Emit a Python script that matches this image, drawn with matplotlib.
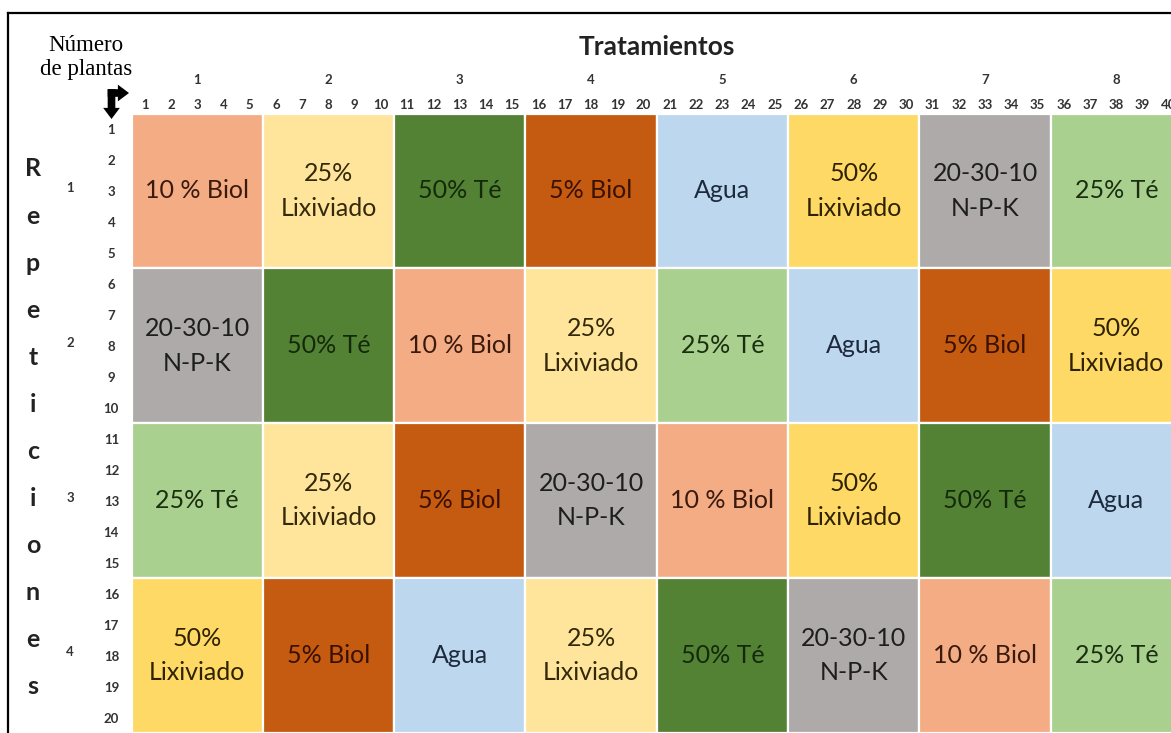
import numpy as np
import matplotlib
matplotlib.use('Agg')
import matplotlib.pyplot as plt
from matplotlib.patches import Rectangle
from matplotlib.lines import Line2D

# datos del diseño
tratamientos = [1, 2, 3, 4, 5, 6, 7, 8]
repeticiones = [1, 2, 3, 4]
plantas_col = list(range(1, 41))
plantas_fila = list(range(1, 21))

rep1 = ['10 % Biol', '25%\nLixiviado', '50% Té', '5% Biol', 'Agua', '50%\nLixiviado', '20-30-10\nN-P-K', '25% Té']
rep2 = ['20-30-10\nN-P-K', '50% Té', '10 % Biol', '25%\nLixiviado', '25% Té', 'Agua', '5% Biol', '50%\nLixiviado']
rep3 = ['25% Té', '25%\nLixiviado', '5% Biol', '20-30-10\nN-P-K', '10 % Biol', '50%\nLixiviado', '50% Té', 'Agua']
rep4 = ['50%\nLixiviado', '5% Biol', 'Agua', '25%\nLixiviado', '50% Té', '20-30-10\nN-P-K', '10 % Biol', '25% Té']
diseno = [rep1, rep2, rep3, rep4]

letras = list('Repeticiones')

# colores
fondo = {
    '10 % Biol': '#F3AC84',
    '25%\nLixiviado': '#FFE59C',
    '50% Té': '#548235',
    '5% Biol': '#C55A11',
    'Agua': '#BDD7EE',
    '50%\nLixiviado': '#FFD966',
    '20-30-10\nN-P-K': '#AEAAAA',
    '25% Té': '#A9D08E',
}
texto = {
    '10 % Biol': '#3a1a0c',
    '25%\nLixiviado': '#33290a',
    '50% Té': '#14290a',
    '5% Biol': '#3a1000',
    'Agua': '#1c2a3c',
    '50%\nLixiviado': '#2e2200',
    '20-30-10\nN-P-K': '#1e1e1e',
    '25% Té': '#1a2e10',
}

plt.rcParams['font.family'] = ['Lato', 'DejaVu Sans']

W, H = 1171, 733
fig = plt.figure(figsize=(W / 100, H / 100), dpi=100)

# eje de la cuadrícula, en unidades de planta
x0, x1, y0 = 131.5, 1182, 113.5
ax = fig.add_axes([x0 / W, 0, (x1 - x0) / W, (H - y0) / H])
ax.set_xlim(0, len(plantas_col))
ax.set_ylim(len(plantas_fila), 0)
for s in ax.spines.values():
    s.set_visible(False)

n = 5
for i, fila in enumerate(diseno):
    for j, trat in enumerate(fila):
        ax.add_patch(Rectangle((j * n, i * n), n, n, facecolor=fondo[trat],
                               edgecolor='white', lw=1.6))
        ax.text(j * n + n / 2, i * n + n / 2, trat, ha='center', va='center',
                fontsize=18, color=texto[trat], linespacing=1.6)

ax.xaxis.tick_top()
ax.set_xticks(np.arange(len(plantas_col)) + 0.5)
ax.set_xticklabels(plantas_col, fontsize=9.5, fontweight='bold', color='#333333')
ax.set_yticks(np.arange(len(plantas_fila)) + 0.5)
ax.set_yticklabels(plantas_fila, fontsize=9.5, fontweight='bold', color='#333333', ha='center')
ax.tick_params(axis='x', length=0, pad=2)
ax.tick_params(axis='y', length=0, pad=14.5)

# números de tratamiento y título
pw, ph = (x1 - x0) / 40, (H - y0) / 20
for j, t in enumerate(tratamientos):
    ax.text(j * n + n / 2, -(y0 - 80) / ph, str(t), ha='center', va='center',
            fontsize=9.5, fontweight='bold', color='#333333', clip_on=False)
ax.text(20, -(y0 - 47) / ph, 'Tratamientos', ha='center', va='center',
        fontsize=19, fontweight='bold', color='#222222', clip_on=False)

# repeticiones
for i, r in enumerate(repeticiones):
    ax.text(-(x0 - 70) / pw, i * n + n / 2 - 0.1, str(r), ha='center', va='center',
            fontsize=9.5, fontweight='bold', color='#333333', clip_on=False)
ys = np.linspace((169 - y0) / ph, (687 - y0) / ph, len(letras))
for c, yy in zip(letras, ys):
    ax.text(-(x0 - 33) / pw, yy, c, ha='center', va='center', fontsize=18,
            fontweight='bold', color='#222222', clip_on=False)

ax.text(-(x0 - 86) / pw, -(y0 - 57.5) / ph, 'Número\nde plantas', ha='center', va='center',
        fontsize=16.5, family='Liberation Serif', linespacing=1.2, clip_on=False)

# flecha doblada
cx, cy = -(x0 - 111.5) / pw, -(y0 - 93) / ph
sty = 'simple,head_length=0.8,head_width=1.2,tail_width=0.55'
ax.annotate('', xy=(-(x0 - 129) / pw, cy), xytext=(cx - 3.8 / pw, cy),
            arrowprops=dict(arrowstyle=sty, fc='black', ec='none', mutation_scale=10,
                            shrinkA=0, shrinkB=0), annotation_clip=False)
ax.annotate('', xy=(cx, -(y0 - 119) / ph), xytext=(cx, cy - 3.8 / ph),
            arrowprops=dict(arrowstyle=sty, fc='black', ec='none', mutation_scale=10,
                            shrinkA=0, shrinkB=0), annotation_clip=False)

# marco
fig.add_artist(Line2D([8 / W, 1], [1 - 13 / H, 1 - 13 / H], color='black', lw=1.6))
fig.add_artist(Line2D([8 / W, 8 / W], [0, 1 - 13 / H], color='black', lw=1.6))

fig.savefig('out.png', dpi=100)
